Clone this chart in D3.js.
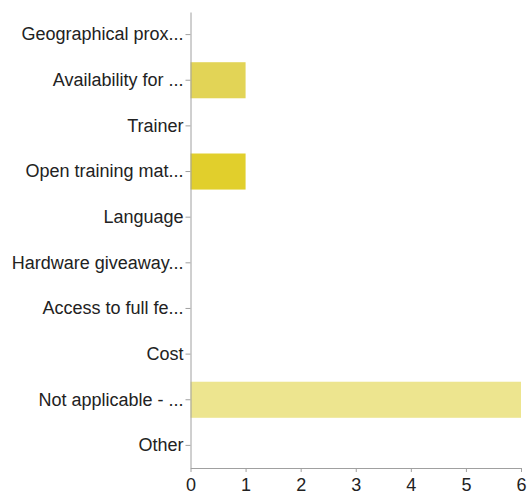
<!DOCTYPE html>
<html>
<head>
<meta charset="utf-8">
<script src="https://cdn.jsdelivr.net/npm/d3@7"></script>
<style>
  body { margin: 0; background: #fff; }
  .tick text { font-family: "Liberation Sans", Arial, sans-serif; font-size: 18px; fill: #222; }
  .domain, .tick line { stroke: #a0a0a0; }
</style>
</head>
<body>
<div id="chart"></div>
<script>
// --- horizontal bar chart: responses per category ---

const categories = [
  'Geographical prox...', 'Availability for ...', 'Trainer', 'Open training mat...',
  'Language', 'Hardware giveaway...', 'Access to full fe...', 'Cost',
  'Not applicable - ...', 'Other'
];
const counts = [0, 1, 0, 1, 0, 0, 0, 0, 6, 0];
const barColors = ['#e2d456', '#e2d456', '#e2d456', '#e1cf2c', '#e2d456',
  '#e2d456', '#e2d456', '#e2d456', '#ede58f', '#e2d456'];
const xTicks = [0, 1, 2, 3, 4, 5, 6];

const W = 530, H = 494;
const margin = { top: 12, right: 9, bottom: 26, left: 190.5 };
const width = W - margin.left - margin.right;
const height = H - margin.top - margin.bottom;

const svg = d3.select('#chart').append('svg')
  .attr('width', W)
  .attr('height', H);

const chartInner = svg.append('g')
  .attr('transform', `translate(${margin.left},${margin.top})`);

const xScale = d3.scaleLinear().domain([0, 6]).range([0, width]);
const yScale = d3.scaleBand().domain(categories).range([0, height]).paddingInner(0.21).paddingOuter(0.1);

chartInner.selectAll('rect.bar')
  .data(categories)
  .join('rect')
  .attr('class', 'bar')
  .attr('x', xScale(0))
  .attr('y', d => yScale(d))
  .attr('width', (d, i) => xScale(counts[i]) - xScale(0))
  .attr('height', yScale.bandwidth())
  .attr('fill', (d, i) => barColors[i]);

chartInner.append('g')
  .attr('transform', `translate(0,${height})`)
  .call(d3.axisBottom(xScale).tickValues(xTicks).tickFormat(d3.format('d')).tickSize(4).tickSizeOuter(0))
  .selectAll('text').attr('dy', '0.9em');

chartInner.append('g')
  .call(d3.axisLeft(yScale).tickSize(5).tickSizeOuter(0).tickPadding(2));
</script>
</body>
</html>
